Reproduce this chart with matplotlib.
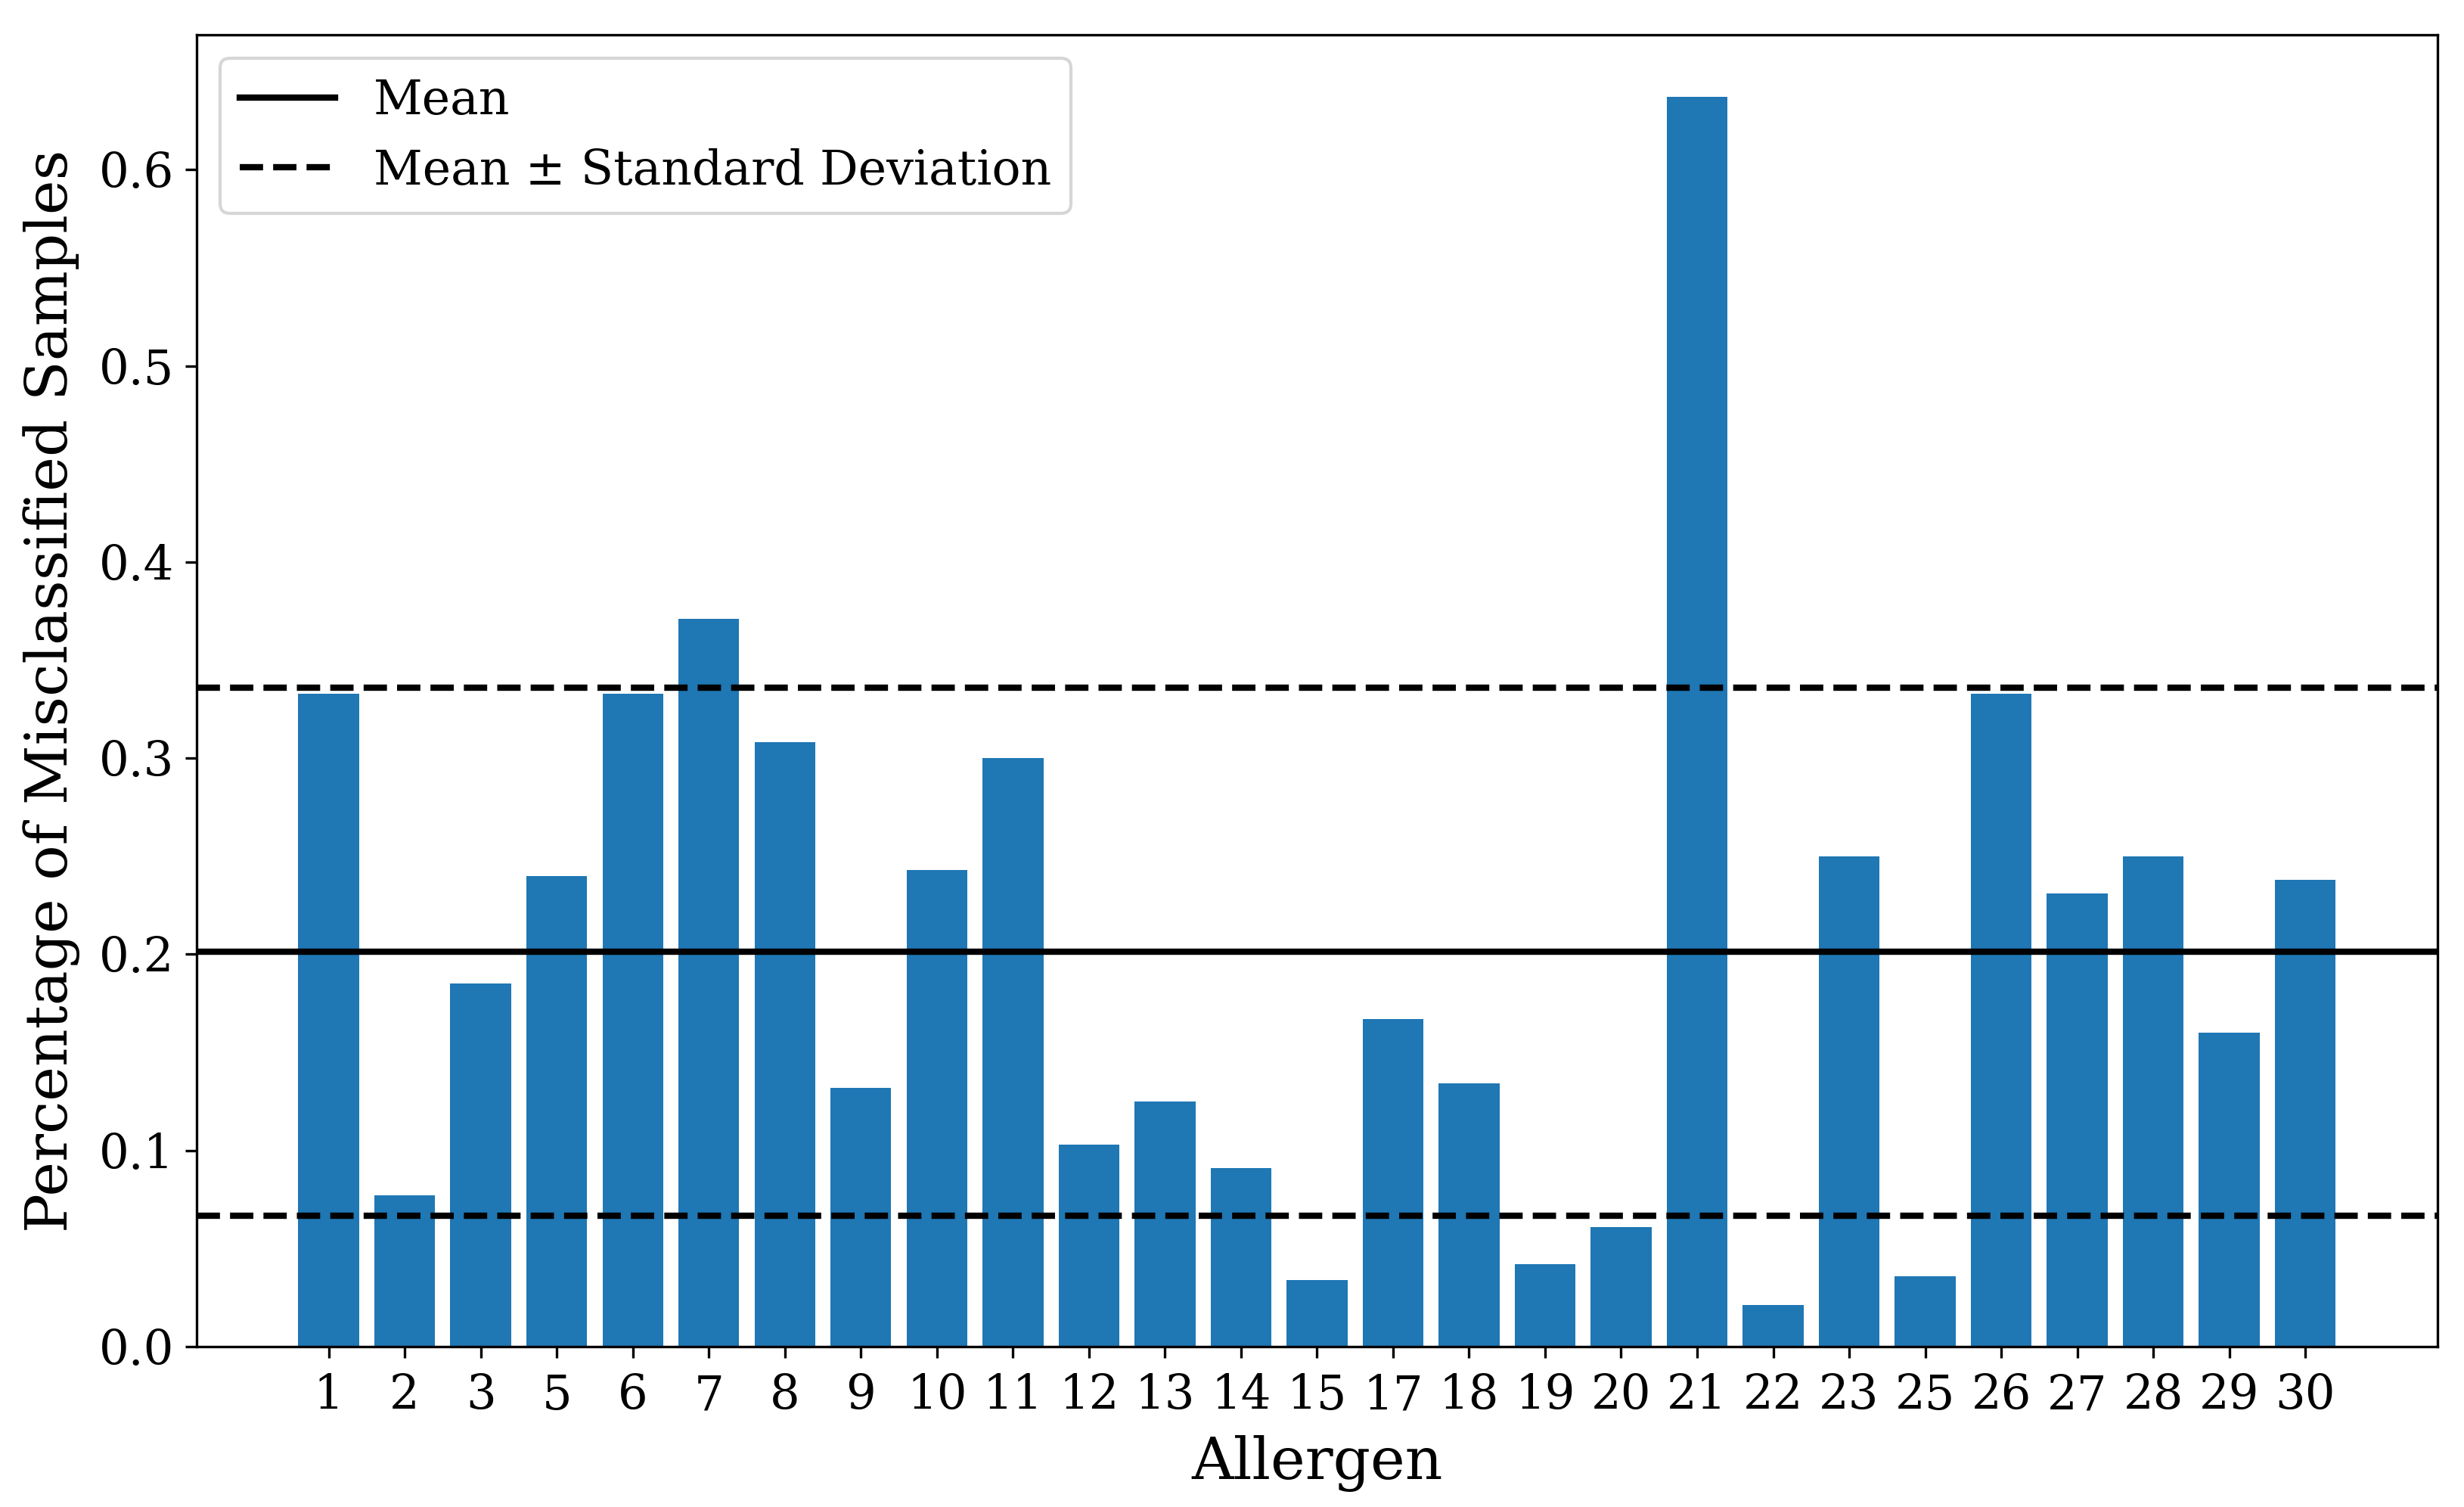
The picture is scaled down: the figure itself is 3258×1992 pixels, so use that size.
import numpy as np
import matplotlib
matplotlib.use('Agg')
import matplotlib.pyplot as plt

plt.rcParams['font.family'] = 'DejaVu Serif'

# allergen ids (some are missing) and fraction of misclassified samples
allergens = ['1', '2', '3', '5', '6', '7', '8', '9', '10', '11', '12', '13', '14', '15',
             '17', '18', '19', '20', '21', '22', '23', '25', '26', '27', '28', '29', '30']
misclassified = [0.333, 0.077, 0.185, 0.240, 0.333, 0.371, 0.308, 0.132, 0.243, 0.300,
                 0.103, 0.125, 0.091, 0.034, 0.167, 0.134, 0.042, 0.061, 0.637, 0.021,
                 0.250, 0.036, 0.333, 0.231, 0.250, 0.160, 0.238]

mean = np.mean(misclassified)
std = np.std(misclassified)

fig, ax = plt.subplots(figsize=(10.863, 6.64), dpi=300)
fig.subplots_adjust(left=0.0797, right=0.989, top=0.977, bottom=0.1065)

ax.bar(allergens, misclassified, color='#1f77b4')
ax.axhline(mean, color='black', linewidth=2, label='Mean')
ax.axhline(mean + std, color='black', linestyle='--', linewidth=2,
           label='Mean \u00b1 Standard Deviation')
ax.axhline(mean - std, color='black', linestyle='--', linewidth=2)

ax.set_xlabel('Allergen', fontsize=18.5, labelpad=5)
ax.set_ylabel('Percentage of Misclassified Samples', fontsize=18.5, labelpad=6)
ax.tick_params(axis='x', labelsize=15, pad=5)
ax.tick_params(axis='y', labelsize=15)
ax.legend(loc='upper left', fontsize=15.2)

fig.savefig('out.png', dpi=300)
